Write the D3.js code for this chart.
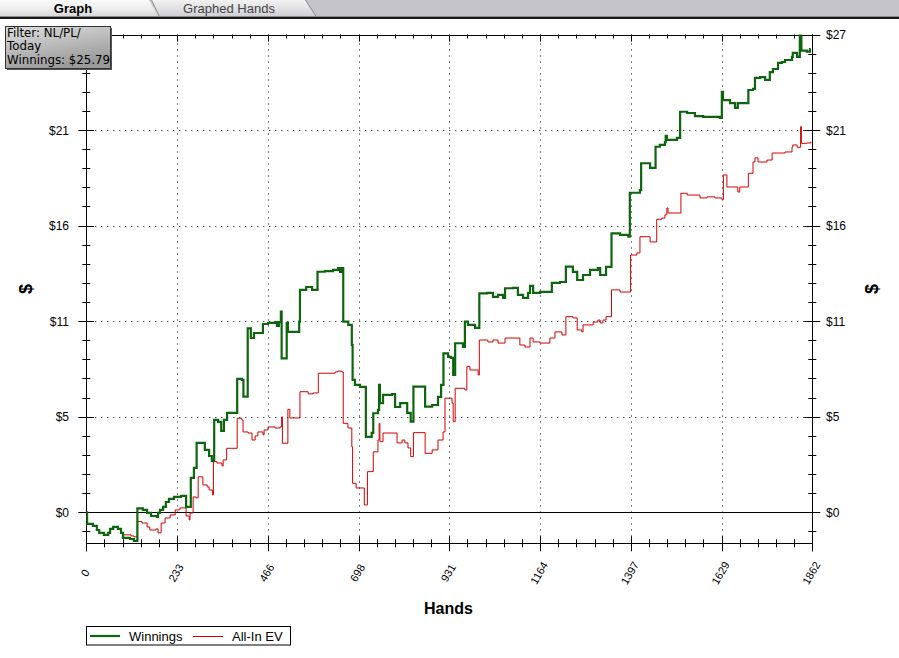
<!DOCTYPE html>
<html><head><meta charset="utf-8">
<script src="https://cdn.jsdelivr.net/npm/d3@7"></script>
<style>body{margin:0;background:#fff;} svg{display:block;}</style>
</head><body><svg id="c" width="899" height="658"></svg>
<script>
// ---- data (hand number where a new running total begins, running total in $) ----
const winHands = [0,2,17,27,33,45,56,61,69,81,89,94,112,122,131,145,156,166,181,184,189,197,204,212,225,243,256,268,276,283,304,315,322,328,338,346,353,361,387,399,403,414,422,430,453,466,484,489,494,499,501,514,517,546,548,564,579,593,612,633,646,651,656,659,672,681,683,689,702,717,732,736,748,751,753,761,784,792,805,823,832,839,869,887,902,910,916,928,935,941,946,966,971,979,997,1008,1028,1043,1056,1069,1074,1094,1107,1120,1133,1138,1146,1164,1194,1215,1230,1248,1259,1274,1292,1312,1318,1333,1347,1369,1390,1394,1420,1423,1446,1460,1471,1484,1486,1489,1515,1523,1541,1561,1582,1625,1630,1633,1651,1664,1671,1698,1710,1715,1728,1741,1753,1761,1774,1784,1792,1810,1812,1823,1830,1834,1848,1856,1858];
const winValues = [0,-0.65,-0.76,-0.99,-1.15,-1.26,-1.15,-0.93,-0.82,-0.93,-1.15,-1.43,-1.49,-1.60,0.21,0.13,-0.04,-0.21,-0.26,-0.04,0.13,0.30,0.57,0.74,0.85,0.91,0.30,1.91,2.47,3.86,3.47,3.13,2.86,5.14,5.03,4.53,5.14,5.53,7.42,7.37,6.44,10.24,9.70,9.98,10.48,10.54,10.59,10.37,10.59,11.17,8.57,10.54,10.04,10.61,12.38,12.54,12.38,13.39,13.43,13.49,13.60,13.38,13.60,10.61,10.43,9.31,7.37,7.09,6.98,4.20,4.42,5.51,5.70,7.09,6.08,6.53,6.58,5.86,6.08,5.53,5.04,6.99,5.88,5.97,6.42,7.09,8.85,8.65,8.59,7.64,9.41,9.20,10.61,10.43,10.26,12.19,12.21,11.99,12.10,11.93,12.47,12.49,12.10,11.93,12.21,12.60,12.21,12.27,12.77,12.82,13.67,13.38,12.93,13.21,13.49,13.60,13.21,13.66,15.53,15.44,15.34,17.79,17.94,19.43,19.17,20.35,20.45,20.61,20.95,20.73,20.84,22.30,22.23,22.06,22.01,21.95,23.41,22.95,22.78,22.51,22.78,23.51,23.57,24.18,24.23,24.07,24.51,24.68,25.02,25.07,25.18,25.35,25.58,25.35,27.2,25.70,25.65,25.79,25.79];

const evHands = [0,2,17,27,33,45,56,61,69,81,89,94,115,122,131,143,156,163,179,184,192,202,215,228,240,256,264,266,274,281,287,299,310,315,324,326,335,348,351,360,387,399,402,415,425,433,440,453,456,466,484,497,501,503,517,522,548,569,582,595,638,645,655,659,671,681,683,692,713,721,736,748,751,753,761,797,810,817,825,832,839,869,887,902,915,920,938,941,946,971,976,984,1005,1008,1030,1043,1056,1074,1112,1125,1138,1146,1164,1189,1202,1220,1230,1248,1259,1271,1274,1300,1312,1318,1325,1333,1347,1369,1396,1412,1420,1446,1463,1476,1484,1489,1492,1525,1541,1574,1592,1612,1630,1634,1643,1671,1676,1698,1710,1715,1723,1746,1759,1792,1810,1812,1823,1832,1834,1848,1858,1859];
const evValues = [0,-0.65,-0.76,-0.99,-1.15,-1.26,-1.15,-0.93,-0.82,-0.93,-1.15,-1.26,-1.32,-1.37,-0.52,-0.60,-0.82,-0.99,-0.93,-1.15,-0.60,-0.32,-0.15,0.13,0.24,-0.21,-0.43,-0.04,0.85,0.80,1.97,1.52,1.41,1.24,0.96,2.82,2.74,2.58,2.91,3.56,5.23,5.14,4.47,4.41,4.02,4.25,4.47,4.31,4.58,4.75,4.69,4.75,5.31,3.84,5.73,5.25,6.71,6.59,6.64,7.74,7.81,7.86,7.81,4.95,4.69,3.64,1.61,1.35,0.41,2.26,3.36,4.02,4.95,3.93,4.41,3.86,4.02,3.86,3.58,3.10,4.43,3.28,3.47,4.02,4.47,6.35,6.08,5.04,6.90,6.81,8.11,7.92,7.64,9.59,9.48,9.59,9.42,9.70,9.31,9.20,9.70,9.48,9.42,9.70,10.04,9.87,10.89,10.82,10.15,10.04,10.43,10.59,10.70,10.54,10.70,10.89,12.38,12.26,14.32,14.44,15.34,15.05,16.31,16.38,16.56,16.94,16.66,17.76,17.66,17.50,17.56,17.50,17.42,18.78,18.11,17.83,18.11,18.87,19.50,19.73,19.50,19.61,20.00,20.06,20.34,20.45,20.32,21.47,20.54,20.56,20.63,20.63];

const xTickLabels = ["0","233","466","698","931","1164","1397","1629","1862"];
const yTickLabels = ["$0","$5","$11","$16","$21","$27"];
const seriesNames = ["Winnings","All-In EV"];
const filterLines = ["Filter: NL/PL/","Today","Winnings: $25.79"];
const tabNames = ["Graph","Graphed Hands"];

const xMax = 1862, yMin = -1.73, yMax = 26.6;

// ---- drawing ----
const svg = d3.select("#c");
const x = d3.scaleLinear().domain([0, xMax]).range([86.3, 812.3]);
const y = d3.scaleLinear().domain([yMin, yMax]).range([543.3, 34.5]);
const px = v => Math.round(v) + 0.5;

const xMajor = d3.range(9).map(k => xMax * k / 8);
const xMinor = d3.range(41).map(k => xMax * k / 40);
const yMajor = d3.range(6).map(k => yMax * k / 5);
const yMinor = d3.range(-1, 26).map(k => yMax * k / 25);

const defs = svg.append("defs");
const g1 = defs.append("linearGradient").attr("id","tabA").attr("x1",0).attr("y1",0).attr("x2",0).attr("y2",1);
g1.append("stop").attr("offset","0%").attr("stop-color","#fbfbfb");
g1.append("stop").attr("offset","55%").attr("stop-color","#ececec");
g1.append("stop").attr("offset","100%").attr("stop-color","#d6d6d6");
const g2 = defs.append("linearGradient").attr("id","tabB").attr("x1",0).attr("y1",0).attr("x2",0).attr("y2",1);
g2.append("stop").attr("offset","0%").attr("stop-color","#f2f2f2");
g2.append("stop").attr("offset","55%").attr("stop-color","#dfdfe2");
g2.append("stop").attr("offset","100%").attr("stop-color","#cfcfd3");
const g3 = defs.append("linearGradient").attr("id","box").attr("x1",0).attr("y1",0).attr("x2",0.4).attr("y2",1);
g3.append("stop").attr("offset","0%").attr("stop-color","#dedede");
g3.append("stop").attr("offset","100%").attr("stop-color","#9a9a9a");
defs.append("clipPath").attr("id","plot").append("rect")
  .attr("x", x(0)).attr("y", y(yMax)).attr("width", x(xMax) - x(0)).attr("height", y(yMin) - y(yMax));

// tab bar
svg.append("rect").attr("x",0).attr("y",0).attr("width",899).attr("height",17).attr("fill","#c5c4c9");
svg.append("path").attr("d","M0,0 L149,0 L159,17 L0,17 Z").attr("fill","url(#tabA)");
svg.append("path").attr("d","M151,0 L305,0 L316,17 L159,17 Z").attr("fill","url(#tabB)");
svg.append("path").attr("d","M151.5,0 L159.5,17 M305.5,0 L316.5,17").attr("stroke","#8a8a8a").attr("fill","none");
svg.append("rect").attr("x",0).attr("y",16).attr("width",899).attr("height",1).attr("fill","#8c8c8c");
svg.append("rect").attr("x",0).attr("y",17).attr("width",899).attr("height",2).attr("fill","#1a1a1a");
svg.append("text").attr("x",73).attr("y",12.5).attr("text-anchor","middle")
  .attr("font-family","Liberation Sans, Arial, sans-serif").attr("font-weight","bold").attr("font-size",13).attr("fill","#000").text(tabNames[0]);
svg.append("text").attr("x",229).attr("y",12.5).attr("text-anchor","middle")
  .attr("font-family","Liberation Sans, Arial, sans-serif").attr("font-size",13).attr("fill","#444").text(tabNames[1]);

// grid
const grid = svg.append("g").attr("stroke","#000").attr("stroke-width",1).attr("stroke-dasharray","1,5");
grid.selectAll("line.v").data(xMajor.slice(1, 8)).join("line")
  .attr("x1", d => px(x(d))).attr("x2", d => px(x(d)))
  .attr("y1", y(yMax) + 3).attr("y2", y(yMin));
grid.selectAll("line.h").data(yMajor.slice(1, 5)).join("line").attr("class","h")
  .attr("y1", d => px(y(d))).attr("y2", d => px(y(d)))
  .attr("x1", x(0) + 3).attr("x2", x(xMax));

const ax = svg.append("g").attr("stroke","#000").attr("stroke-width",1).attr("fill","none");
// frame / axes
ax.append("line").attr("x1", x(0)).attr("x2", x(xMax) + 8).attr("y1", px(y(yMax))).attr("y2", px(y(yMax)));
ax.append("line").attr("x1", x(0) - 8).attr("x2", x(xMax) + 8).attr("y1", px(y(0))).attr("y2", px(y(0)));
ax.append("line").attr("x1", x(0)).attr("x2", x(xMax)).attr("y1", px(y(yMin))).attr("y2", px(y(yMin)));
ax.append("line").attr("x1", px(x(0))).attr("x2", px(x(0))).attr("y1", y(yMax)).attr("y2", y(yMin) + 8);
ax.append("line").attr("x1", px(x(xMax))).attr("x2", px(x(xMax))).attr("y1", y(yMax)).attr("y2", y(yMin) + 8);

// y ticks (left & right), crossing the axis
const isMajorY = d => yMajor.some(m => Math.abs(m - d) < 1e-6);
yMinor.forEach(d => {
  if (d === 0 || Math.abs(d - yMax) < 1e-6) {
    return;
  }
  const big = isMajorY(d);
  const L = big ? 8 : 4;
  ax.append("line").attr("x1", x(0) - L).attr("x2", x(0) + L).attr("y1", px(y(d))).attr("y2", px(y(d)));
  ax.append("line").attr("x1", x(xMax) - L).attr("x2", x(xMax) + L).attr("y1", px(y(d))).attr("y2", px(y(d)));
});
// x ticks bottom & top
const isMajorX = d => xMajor.some(m => Math.abs(m - d) < 1e-6);
xMinor.forEach(d => {
  const big = isMajorX(d);
  const up = big ? 7 : 4, dn = big ? 8 : 4;
  ax.append("line").attr("x1", px(x(d))).attr("x2", px(x(d))).attr("y1", y(yMin) - up).attr("y2", y(yMin) + dn);
  ax.append("line").attr("x1", px(x(d))).attr("x2", px(x(d))).attr("y1", y(yMax)).attr("y2", y(yMax) + (big ? 7 : 4));
});

// labels (the left $27 is hidden behind the filter box in the reference)
const fontA = "Liberation Sans, Arial, sans-serif";
svg.append("g").selectAll("text").data(yMajor.slice(0, 5)).join("text")
  .attr("x", 69).attr("y", d => y(d) + 4.5).attr("text-anchor","end")
  .attr("font-family", fontA).attr("font-size", 12).attr("fill","#000")
  .text((d, i) => yTickLabels[i]);
svg.append("g").selectAll("text").data(yMajor).join("text")
  .attr("x", 826).attr("y", d => y(d) + 4.5).attr("text-anchor","start")
  .attr("font-family", fontA).attr("font-size", 12).attr("fill","#000")
  .text((d, i) => yTickLabels[i]);
svg.append("g").selectAll("text").data(xMajor).join("text")
  .attr("transform", d => `translate(${x(d) - 1},573) rotate(-60)`)
  .attr("text-anchor","middle").attr("dy","0.35em")
  .attr("font-family", fontA).attr("font-size", 11).attr("fill","#000")
  .text((d, i) => xTickLabels[i]);

svg.append("text").attr("x", 448.5).attr("y", 614).attr("text-anchor","middle")
  .attr("font-family", fontA).attr("font-weight","bold").attr("font-size", 16).text("Hands");
[26, 872].forEach(cx => {
  svg.append("text").attr("transform", `translate(${cx},289) rotate(-90)`)
    .attr("text-anchor","middle").attr("dy","0.35em")
    .attr("font-family", fontA).attr("font-weight","bold").attr("font-size", 18).text("$");
});

// series
const line = d3.line().curve(d3.curveStepAfter).x(d => x(d[0])).y(d => y(d[1]));
const evData = evHands.map((h, i) => [h, evValues[i]]);
const winData = winHands.map((h, i) => [h, winValues[i]]);
const plot = svg.append("g").attr("clip-path","url(#plot)");
plot.append("path").datum(evData).attr("d", line).attr("fill","none")
  .attr("stroke","#d40000").attr("stroke-width",1);
plot.append("path").datum(winData).attr("d", line).attr("fill","none")
  .attr("stroke","#0d650d").attr("stroke-width",2.2).attr("stroke-linejoin","miter");

// legend
const lg = svg.append("g");
lg.append("rect").attr("x",86.5).attr("y",626.5).attr("width",204).attr("height",18.5)
  .attr("fill","#fff").attr("stroke","#000");
lg.append("line").attr("x1",90).attr("x2",120).attr("y1",636).attr("y2",636).attr("stroke","#0d650d").attr("stroke-width",2.2);
lg.append("text").attr("x",129).attr("y",641).attr("font-family",fontA).attr("font-size",13).text(seriesNames[0]);
lg.append("line").attr("x1",193).attr("x2",223).attr("y1",636.5).attr("y2",636.5).attr("stroke","#d40000").attr("stroke-width",1);
lg.append("text").attr("x",232).attr("y",641).attr("font-family",fontA).attr("font-size",13).text(seriesNames[1]);

// filter box
const fb = svg.append("g");
fb.append("rect").attr("x",7).attr("y",28).attr("width",105).attr("height",42).attr("fill","#555");
fb.append("rect").attr("x",5.5).attr("y",26.5).attr("width",105).attr("height",42)
  .attr("fill","url(#box)").attr("stroke","#333");
fb.selectAll("text").data(filterLines).join("text")
  .attr("x",7).attr("y",(d,i) => 36.8 + i * 13.5)
  .attr("font-family","DejaVu Sans, Verdana, sans-serif").attr("font-size",11.8).attr("fill","#000")
  .text(d => d);
</script></body></html>
